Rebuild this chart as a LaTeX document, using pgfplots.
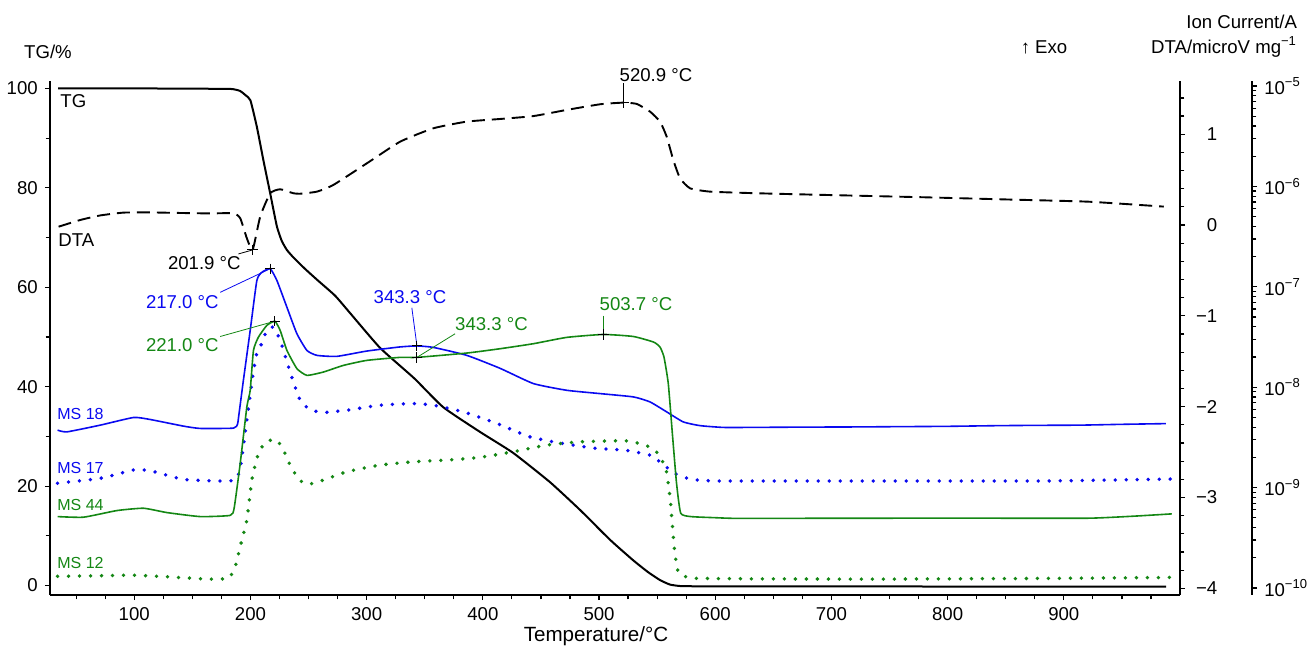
\documentclass[border=0pt]{standalone}
\usepackage{fontspec}
\setmainfont{Liberation Sans}
\usepackage{pgfplots}
\pgfplotsset{compat=1.18}
\definecolor{msblue}{RGB}{10,10,240}
\definecolor{msgreen}{RGB}{20,135,20}

\pgfplotsset{
  layer/.style={scale only axis, width=565pt, height=256.75pt,
    at={(0,0)}, anchor=south west, xmin=27.5, xmax=1000, clip=false,
    tick align=outside, major tick length=2.6pt, minor tick length=2.2pt,
    every tick/.append style={black, line width=0.6pt},
    axis line style={line width=0.9pt, -},
    ticklabel style={font=\fontsize{9.3}{11}\selectfont},
    /pgf/number format/assume math mode=true},
  msaxis/.style={layer, hide axis, ymin=-10.07, ymax=-4.955},
  curve/.style={smooth, tension=0.3},
  dots/.style={curve, line width=1.9pt, line cap=round, dash pattern=on 0pt off 5.5pt},
  peak/.style={only marks, mark=+, mark size=2.6pt, black, mark options={line width=0.5pt}},
}

\begin{document}
\begin{tikzpicture}[font=\fontsize{9.3}{11}\selectfont]
\useasboundingbox (-25pt,-28pt) rectangle (629.5pt,297.5pt);

% TG (left axis, mass in %)
\begin{axis}[layer, ymin=-1.9, ymax=101.4,
  axis x line*=bottom, axis y line*=left,
  xtick={100,200,...,900}, minor xtick={50,75,...,975},
  ytick={0,20,...,100}, minor ytick={10,30,...,90}]
\addplot[curve, black, line width=1pt] coordinates {
(34.6,100.0) (70,100.0) (110,100.0) (150,99.95) (183,99.9) (191,99.5) (196,98.6) (200,97.6)
(205.5,92.3) (211.2,85.5) (217,78.9) (222.8,72.2) (227,69.3) (231.4,67.5)
(237,66.0) (247,63.7) (257.4,61.5) (272.9,58.3) (285.8,54.8) (311.6,47.8)
(340.9,41.7) (365.8,35.9) (397.6,30.9) (426,26.7) (457.8,20.8) (483.7,15.2)
(509.5,9.2) (529.3,5.1) (542.2,2.7) (552.5,1.1) (561,0.2) (570,-0.1)
(585,-0.15) (610,-0.15) (650,-0.15) (700,-0.15) (800,-0.2) (900,-0.2) (988,-0.2)};
\end{axis}

% DTA (right axis, microV/mg)
\begin{axis}[layer, ymin=-4.074, ymax=1.581, hide x axis, axis y line*=right,
  ytick={-4,-3,-2,-1,0,1}, yticklabels={−4,−3,−2,−1,0,1},
  yticklabel style={text width=11pt, align=right, xshift=1.5pt},
  minor ytick={-3.8,-3.6,...,1.4}]
\addplot[curve, black, line width=0.95pt, dash pattern=on 6.5pt off 3.5pt] coordinates {
(34.9,-0.018) (53.6,0.056) (70.8,0.106) (90.8,0.137) (113.8,0.139) (139.6,0.133)
(165.4,0.128) (185.4,0.13) (191.2,0.075) (196.9,-0.145) (201.9,-0.274)
(208.4,0.093) (217.0,0.35) (225.6,0.394) (237.0,0.35) (242.8,0.345)
(257.2,0.368) (271.4,0.442) (300.2,0.68) (328.8,0.918) (357.5,1.066)
(386.2,1.139) (414.8,1.168) (443.5,1.2) (472.2,1.268) (500.9,1.33)
(520.9,1.348) (532.4,1.334) (543.9,1.249) (552.5,1.139) (558.2,0.974)
(563.9,0.717) (569.7,0.515) (578.3,0.405) (595.5,0.368) (636.3,0.35)
(700,0.33) (779.1,0.306) (850,0.282) (921.5,0.257) (986,0.203)};
\addplot[peak] coordinates {(201.9,-0.274) (520.9,1.348)};
\draw[black, line width=0.4pt] (axis cs:189.7,-0.318) -- (axis cs:201.9,-0.274);
\draw[black, line width=0.4pt] (axis cs:520.9,1.562) -- (axis cs:520.9,1.348);
\end{axis}

% MS ion currents (log10 of current in A)
\begin{axis}[msaxis]
% MS 18
\addplot[curve, msblue, line width=0.8pt] coordinates {
(34.0,-8.428) (42.1,-8.445) (70.8,-8.378) (99.4,-8.302) (113.8,-8.322)
(142.4,-8.388) (156.8,-8.411) (185.4,-8.408) (188.9,-8.368) (189.9,-8.289)
(194.0,-7.926) (199.8,-7.434) (205.5,-6.938) (209.8,-6.856) (217,-6.82)
(222.8,-6.938) (231.4,-7.204) (240,-7.468) (248.6,-7.634) (257.2,-7.683)
(274.4,-7.693) (300.2,-7.64) (328.8,-7.599) (343.3,-7.589) (357.5,-7.604)
(386.2,-7.683) (414.8,-7.812) (443.5,-7.964) (472.2,-8.031) (500.9,-8.064)
(529.6,-8.097) (543.9,-8.147) (558.2,-8.246) (572.5,-8.346) (586.9,-8.383)
(607.5,-8.401) (640,-8.40) (672.9,-8.398) (720,-8.396) (758.8,-8.393) (800,-8.39)
(844.9,-8.383) (880,-8.38) (914.6,-8.378) (950,-8.37) (987.8,-8.363)};
% MS 17
\addplot[msblue, dots] coordinates {
(34.0,-8.957) (70.8,-8.908) (99.4,-8.825) (113.8,-8.832) (142.4,-8.918)
(171.1,-8.934) (186.9,-8.925) (191.2,-8.805) (196.9,-8.329) (201.2,-7.951)
(204.9,-7.683) (208.4,-7.601) (214.1,-7.435) (219.8,-7.402) (225.6,-7.534)
(234.2,-7.852) (242.8,-8.13) (251.4,-8.224) (262.8,-8.252) (283,-8.229)
(311.6,-8.18) (340.3,-8.163) (357.5,-8.18) (383.3,-8.246) (412,-8.361)
(440.6,-8.495) (469.3,-8.562) (498,-8.61) (522.1,-8.627) (543.5,-8.676)
(554.2,-8.759) (564.9,-8.858) (579.1,-8.918) (600.6,-8.934) (650,-8.934)
(700,-8.934) (758.9,-8.934) (820,-8.934) (886.2,-8.934) (940,-8.925) (992.9,-8.915)};
% MS 44
\addplot[curve, msgreen, line width=0.8pt] coordinates {
(34.0,-9.289) (56.4,-9.295) (85.1,-9.229) (108,-9.206) (128.1,-9.249)
(156.8,-9.289) (182.6,-9.277) (186,-9.203) (191.2,-8.759) (196.9,-8.197)
(199.8,-8.031) (202.6,-7.634) (206.9,-7.501) (214.1,-7.385) (221,-7.343)
(225.6,-7.435) (231.4,-7.634) (240,-7.815) (248.6,-7.882) (262.8,-7.849)
(280,-7.783) (300.2,-7.733) (328.8,-7.703) (343.3,-7.703) (386.2,-7.66)
(414.8,-7.617) (443.5,-7.567) (472.2,-7.504) (503.7,-7.475) (529.5,-7.495)
(547,-7.551) (552.5,-7.601) (555.9,-7.7) (559.6,-7.964) (563.1,-8.461)
(566.7,-8.957) (570.3,-9.255) (579.1,-9.289) (600,-9.30) (618.5,-9.307)
(680,-9.306) (758.9,-9.305) (840,-9.305) (921.5,-9.305) (960,-9.285) (992.9,-9.262)};
% MS 12
\addplot[msgreen, dots] coordinates {
(34.0,-9.884) (70.8,-9.878) (99.4,-9.873) (128.1,-9.888) (162.5,-9.911)
(181.1,-9.903) (186.9,-9.788) (191.2,-9.587) (196.9,-9.322) (201.2,-8.925)
(205.5,-8.709) (209.3,-8.607) (214.1,-8.537) (222.8,-8.527) (228.4,-8.627)
(234.2,-8.776) (240,-8.892) (245.4,-8.954) (251.4,-8.964) (262.8,-8.925)
(283,-8.842) (311.6,-8.776) (340.3,-8.743) (369,-8.726) (397.6,-8.699)
(426.3,-8.643) (455,-8.577) (483.7,-8.544) (522.1,-8.534) (539.9,-8.577)
(550.7,-8.659) (557.8,-8.825) (561.3,-9.123) (564.9,-9.62) (568.5,-9.851)
(579.1,-9.901) (600,-9.906) (650,-9.91) (700,-9.911) (758.9,-9.911) (820,-9.908)
(880,-9.905) (940,-9.90) (992.9,-9.895)};
% peak markers and leaders
\addplot[peak] coordinates {(217,-6.82) (221,-7.343) (343.3,-7.589) (343.3,-7.703) (503.7,-7.475)};
\draw[msblue, line width=0.4pt] (axis cs:174,-7.055) -- (axis cs:217,-6.82);
\draw[msgreen, line width=0.4pt] (axis cs:174,-7.495) -- (axis cs:221,-7.343);
\draw[msblue, line width=0.4pt] (axis cs:338.9,-7.209) -- (axis cs:343.3,-7.589);
\draw[msgreen, line width=0.4pt] (axis cs:376.1,-7.468) -- (axis cs:343.3,-7.703);
\draw[msgreen, line width=0.4pt] (axis cs:503.7,-7.286) -- (axis cs:503.7,-7.475);
\end{axis}

% Ion current scale (outer right)
\begin{axis}[layer, at={(36pt,0pt)}, ymin=-10.07, ymax=-4.955, hide x axis, axis y line*=right,
  ytick={-10,-9,-8,-7,-6,-5},
  yticklabels={10\textsuperscript{−10},10\textsuperscript{−9},10\textsuperscript{−8},10\textsuperscript{−7},10\textsuperscript{−6},10\textsuperscript{−5}},
  minor ytick={-9.699,-9.523,-9.398,-9.301,-9.222,-9.155,-9.097,-9.046,
               -8.699,-8.523,-8.398,-8.301,-8.222,-8.155,-8.097,-8.046,
               -7.699,-7.523,-7.398,-7.301,-7.222,-7.155,-7.097,-7.046,
               -6.699,-6.523,-6.398,-6.301,-6.222,-6.155,-6.097,-6.046,
               -5.699,-5.523,-5.398,-5.301,-5.222,-5.155,-5.097,-5.046}]
\end{axis}

\begin{scope}[x=1pt, y=1pt]
% axis titles
\node at (-1,271.5) {TG/\%};
\node at (497,274) {↑ Exo};
\node[anchor=east] at (627,274) {DTA/microV mg\textsuperscript{−1}};
\node[anchor=east] at (627,286.5) {Ion Current/A};
\node[font=\fontsize{10.3}{12}\selectfont] at (273,-20.5) {Temperature/°C};

% curve names
\node[anchor=west, inner sep=0] at (5,247) {TG};
\node[anchor=west, inner sep=0] at (4,177.5) {DTA};
\begin{scope}[font=\fontsize{8}{10}\selectfont]
\node[anchor=west, inner sep=0, text=msblue] at (3.5,90.5) {MS 18};
\node[anchor=west, inner sep=0, text=msblue] at (3.5,63.5) {MS 17};
\node[anchor=west, inner sep=0, text=msgreen] at (3.5,45) {MS 44};
\node[anchor=west, inner sep=0, text=msgreen] at (3.5,16) {MS 12};
\end{scope}

% peak temperatures
\node[anchor=east, inner sep=0] at (95.5,166) {201.9 °C};
\node[anchor=east, inner sep=0, text=msblue] at (84.5,146.65) {217.0 °C};
\node[anchor=east, inner sep=0, text=msgreen] at (84.5,125) {221.0 °C};
\node[inner sep=0, text=msblue] at (180,149.15) {343.3 °C};
\node[inner sep=0, text=msgreen] at (220.75,135.5) {343.3 °C};
\node[inner sep=0, text=msgreen] at (293,145.35) {503.7 °C};
\node[inner sep=0] at (303,260) {520.9 °C};
\end{scope}
\end{tikzpicture}
\end{document}
